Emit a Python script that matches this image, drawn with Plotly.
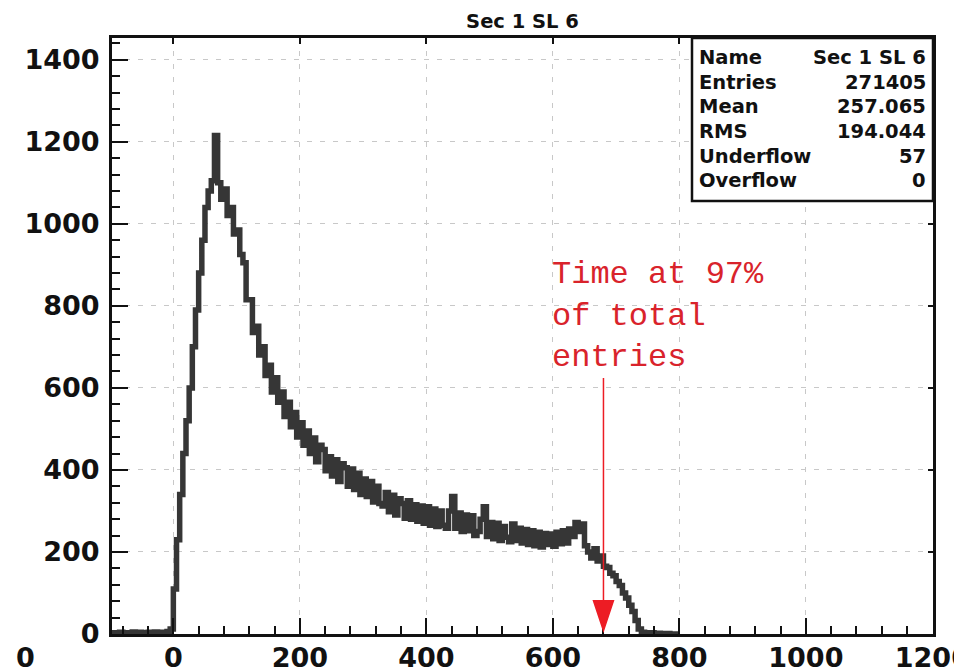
import numpy as np
import plotly.graph_objects as go

# ---- data -------------------------------------------------------------
TITLE = "Sec 1 SL 6"
BIN_START = -100          # left edge of first bin (ns)
BIN_WIDTH = 5             # bin width (ns)

# counts per bin, ten bins per row; row label = left edge of first bin
counts = [
    2, 3, 2, 4, 3, 2, 3, 5, 3, 4,                 # -100
    2, 3, 4, 3, 5, 4, 3, 4, 6, 12,                # -50
    110, 230, 340, 440, 520, 600, 700, 790, 880, 960,        # 0
    1040, 1080, 1105, 1215, 1100, 1060, 1085, 1020, 1040, 975,  # 50
    985, 925, 905, 815, 815, 735, 750, 680, 700, 630,         # 100
    655, 590, 625, 565, 590, 530, 565, 505, 540, 480,         # 150
    515, 460, 495, 440, 478, 420, 460, 450, 398, 432,         # 200
    385, 425, 372, 415, 405, 360, 402, 352, 392, 340,         # 250
    378, 335, 372, 322, 360, 318, 312, 345, 298, 338,         # 300
    290, 330, 318, 282, 325, 280, 315, 275, 312, 270,         # 350
    310, 265, 305, 262, 300, 265, 258, 300, 335, 258,         # 400
    295, 250, 290, 252, 288, 240, 250, 280, 310, 238,         # 450
    272, 232, 270, 228, 262, 236, 225, 268, 228, 258,         # 500
    222, 255, 218, 252, 215, 248, 212, 245, 218, 244,         # 550
    214, 248, 220, 252, 222, 256, 238, 272, 250, 268,         # 600
    215, 200, 185, 208, 178, 190, 165, 162, 148, 142,         # 650
    128, 118, 100, 88, 70, 55, 33, 12, 4, 3,                  # 700
    2, 3, 1, 2, 1, 0, 1, 0, 0, 0,                             # 750
]

x_ticks = [0, 200, 400, 600, 800, 1000, 1200]
y_ticks = [0, 200, 400, 600, 800, 1000, 1200, 1400]
X_RANGE = [-97, 1201]
Y_RANGE = [0, 1453]

stat_names = ["Name", "Entries", "Mean", "RMS", "Underflow", "Overflow"]
stat_values = ["Sec 1 SL 6", "271405", "257.065", "194.044", "57", "0"]

t97 = 680                 # time at 97% of total entries
note_lines = ["Time at 97%", "of total", "entries"]

# ---- geometry ---------------------------------------------------------
W, H = 954, 672
ML, MR, MT, MB = 112, 21, 38, 38
PW, PH = W - ML - MR, H - MT - MB


def px(x):
    return (x - ML) / PW


def py(y):
    return (H - MB - y) / PH


INK = "#111111"
HIST = "#363636"
RED = "#ed1c24"
TEXT_RED = "#d9232b"
GRID = "#c8c8c8"

edges = BIN_START + BIN_WIDTH * np.arange(len(counts) + 1)
steps = list(counts) + [counts[-1]]

fig = go.Figure()
fig.add_trace(go.Scatter(
    x=edges, y=steps, mode="lines", line_shape="hv",
    line=dict(color=HIST, width=5.5), showlegend=False, hoverinfo="skip",
))
# empty trace so the mirrored top/right axes are drawn
fig.add_trace(go.Scatter(x=[None], y=[None], xaxis="x2", yaxis="y2",
                         showlegend=False, hoverinfo="skip"))

tick_font = dict(family="DejaVu Sans", size=27, color=INK, weight="bold")

fig.update_layout(
    width=W, height=H,
    margin=dict(l=ML, r=MR, t=MT, b=MB, autoexpand=False),
    paper_bgcolor="white", plot_bgcolor="white",
    title=dict(text=TITLE, x=0.5, xref="paper", xanchor="center",
               y=1 - 21 / H, yref="container", yanchor="middle",
               font=dict(family="DejaVu Sans", size=19.5, color=INK, weight="bold")),
    xaxis=dict(
        range=X_RANGE, tickvals=x_ticks, ticks="inside", ticklen=16, tickwidth=2,
        tickcolor=INK, showline=True, linewidth=3, linecolor=INK, mirror=True,
        showgrid=True, gridcolor=GRID, gridwidth=1, griddash="5px,8px",
        zeroline=False, tickfont=tick_font, ticklabeloverflow="allow",
        ticklabelstandoff=-2, automargin=False,
        minor=dict(ticks="inside", ticklen=8, tickwidth=2, tickcolor=INK,
                   dtick=40, tick0=0, showgrid=False),
    ),
    yaxis=dict(
        range=Y_RANGE, tickvals=y_ticks, ticks="inside", ticklen=16, tickwidth=2,
        tickcolor=INK, showline=True, linewidth=3, linecolor=INK, mirror=True,
        showgrid=True, gridcolor=GRID, gridwidth=1, griddash="5px,8px",
        zeroline=False, tickfont=tick_font, ticklabeloverflow="allow",
        ticklabelstandoff=4, automargin=False,
        minor=dict(ticks="inside", ticklen=8, tickwidth=2, tickcolor=INK,
                   dtick=40, tick0=0, showgrid=False),
    ),
    xaxis2=dict(range=X_RANGE, overlaying="x", side="top", tickvals=x_ticks,
                ticks="inside", ticklen=6, tickwidth=2, tickcolor=INK,
                showticklabels=False, showgrid=False, showline=False,
                zeroline=False, automargin=False),
    yaxis2=dict(range=Y_RANGE, overlaying="y", side="right", tickvals=y_ticks,
                ticks="inside", ticklen=5, tickwidth=2, tickcolor=INK,
                showticklabels=False, showgrid=False, showline=False,
                zeroline=False, automargin=False),
)

# statistics box
box_bottom = 201
fig.add_shape(type="rect", xref="paper", yref="paper",
              x0=px(692), x1=1.0, y0=py(box_bottom), y1=1.0,
              fillcolor="white", line=dict(color=INK, width=2.5), layer="above")
row_y = [57.5, 82, 107, 131.5, 156, 181]
stat_font = dict(family="DejaVu Sans", size=19.5, color=INK, weight="bold")
for name, val, yy in zip(stat_names, stat_values, row_y):
    fig.add_annotation(text=name, xref="paper", yref="paper", x=px(697), y=py(yy),
                       xanchor="left", yanchor="middle", showarrow=False, font=stat_font)
    fig.add_annotation(text=val, xref="paper", yref="paper", x=px(928), y=py(yy),
                       xanchor="right", yanchor="middle", showarrow=False, font=stat_font)

# 97% marker: text, shaft and head
fig.add_annotation(text="<br>".join(note_lines), xref="x", yref="paper",
                   x=596, y=py(316), xanchor="left", yanchor="middle", align="left",
                   showarrow=False,
                   font=dict(family="Liberation Mono", size=32, color=TEXT_RED))
fig.add_shape(type="line", xref="x", yref="paper", x0=t97, x1=t97,
              y0=py(600), y1=py(378), line=dict(color=RED, width=1.5), layer="above")
fig.add_shape(type="path", xref="x", yref="y", xsizemode="pixel", ysizemode="pixel",
              xanchor=t97, yanchor=0, path="M-11,34 L11,34 L0,1 Z",
              fillcolor=RED, line=dict(width=0), layer="above")

# stray label at the far lower left
fig.add_annotation(text="0", xref="paper", yref="paper", x=px(25), y=py(657),
                   xanchor="center", yanchor="middle", showarrow=False, font=tick_font)

fig.write_html("out.html")
